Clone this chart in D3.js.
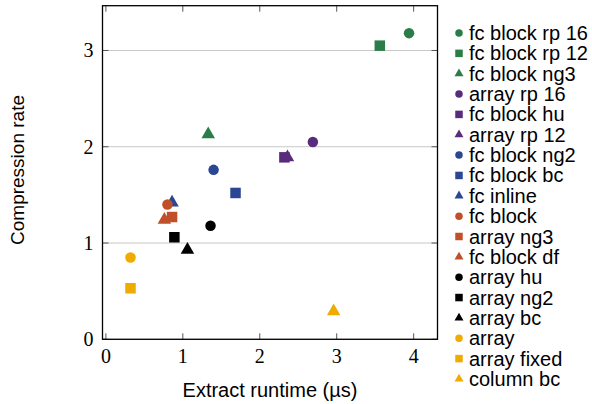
<!DOCTYPE html>
<meta charset="utf-8">
<style>
    body { margin: 0; background: #fff; }
    svg { display: block; }
    .tick-label { font: 20px "Liberation Serif", serif; fill: #000; }
    .axis-title { font: 20px "Liberation Sans", Arial, sans-serif; fill: #000; }
    .legend text { font: 20px "Liberation Sans", Arial, sans-serif; fill: #000; }
</style>
<body>
<script src="https://cdnjs.cloudflare.com/ajax/libs/d3/7.8.5/d3.min.js"></script>
<script>
// series, in legend (and drawing) order
var names = ["fc block rp 16", "fc block rp 12", "fc block ng3", "array rp 16", "fc block hu",
    "array rp 12", "fc block ng2", "fc block bc", "fc inline", "fc block", "array ng3",
    "fc block df", "array hu", "array ng2", "array bc", "array", "array fixed", "column bc"];
var runtime = [3.94, 3.56, 1.33, 2.69, 2.32, 2.36, 1.40, 1.685, 0.86, 0.80, 0.86,
    0.76, 1.36, 0.89, 1.06, 0.32, 0.32, 2.96];
var rate = [3.18, 3.05, 2.13, 2.05, 1.89, 1.89, 1.76, 1.52, 1.42, 1.40, 1.27,
    1.24, 1.18, 1.06, 0.93, 0.85, 0.53, 0.29];
var groupColors = ["#2a7d47", "#592b7c", "#2b4692", "#c0502a", "#000000", "#f0ab00"];
var shapes = ["circle", "square", "triangle"];
var xTicks = [0, 1, 2, 3, 4];
var yTicks = [0, 1, 2, 3];

var W = 592, H = 404;
var pl = 102.5, pr = 437.5, pt = 5.7, pb = 339.3;

var svg = d3.select("body").append("svg").attr("width", W).attr("height", H);

var x = d3.scaleLinear().domain([-0.044, 4.31]).range([pl, pr]);
var y = d3.scaleLinear().domain([0, 3.465]).range([pb, pt]);

// horizontal grid
svg.append("g").selectAll("line").data(yTicks).enter().append("line")
    .attr("x1", pl).attr("x2", pr)
    .attr("y1", function(d) { return y(d); }).attr("y2", function(d) { return y(d); })
    .attr("stroke", "#c8c8c8").attr("stroke-width", 1);

// ticks inside, mirrored on both sides
var tl = 6, tickCol = "#555";
var tk = svg.append("g").attr("stroke", tickCol).attr("stroke-width", 1);
xTicks.forEach(function(t) {
    tk.append("line").attr("x1", x(t)).attr("x2", x(t)).attr("y1", pb).attr("y2", pb - tl);
    tk.append("line").attr("x1", x(t)).attr("x2", x(t)).attr("y1", pt).attr("y2", pt + tl);
});
yTicks.forEach(function(t) {
    tk.append("line").attr("y1", y(t)).attr("y2", y(t)).attr("x1", pl).attr("x2", pl + tl);
    tk.append("line").attr("y1", y(t)).attr("y2", y(t)).attr("x1", pr).attr("x2", pr - tl);
});

// frame
svg.append("rect").attr("x", pl).attr("y", pt)
    .attr("width", pr - pl).attr("height", pb - pt)
    .attr("fill", "none").attr("stroke", "#000").attr("stroke-width", 1.3);

svg.append("g").selectAll("text").data(xTicks).enter().append("text")
    .attr("class", "tick-label")
    .attr("x", function(d) { return x(d); }).attr("y", pb + 24)
    .attr("text-anchor", "middle").text(function(d) { return d; });
svg.append("g").selectAll("text").data(yTicks).enter().append("text")
    .attr("class", "tick-label")
    .attr("x", pl - 9).attr("y", function(d) { return y(d) + 7; })
    .attr("text-anchor", "end").text(function(d) { return d; });

svg.append("text").attr("class", "axis-title")
    .attr("x", (pl + pr) / 2).attr("y", 397)
    .attr("text-anchor", "middle").text("Extract runtime (µs)");
svg.append("text").attr("class", "axis-title")
    .style("font-size", "19px")
    .attr("transform", "translate(24," + 170 + ") rotate(-90)")
    .attr("text-anchor", "middle").text("Compression rate");

// s = diameter / side length in px
function symbolPath(shape, s) {
    if (shape === "circle") return d3.symbol().type(d3.symbolCircle).size(Math.PI * s * s / 4)();
    if (shape === "square") return d3.symbol().type(d3.symbolSquare).size(s * s)();
    return d3.symbol().type(d3.symbolTriangle).size(s * s * Math.sqrt(3) / 4)();
}

var pts = names.map(function(n, i) {
    return { name: n, x: runtime[i], y: rate[i],
        color: groupColors[Math.floor(i / 3)], shape: shapes[i % 3] };
});

svg.append("g").selectAll("path").data(pts).enter().append("path")
    .attr("transform", function(d) { return "translate(" + x(d.x) + "," + y(d.y) + ")"; })
    .attr("d", function(d) { return symbolPath(d.shape, d.shape === "triangle" ? 13.5 : 10.5); })
    .attr("fill", function(d) { return d.color; });

// legend
var lg = svg.append("g").attr("class", "legend");
var row = lg.selectAll("g").data(pts).enter().append("g")
    .attr("transform", function(d, i) { return "translate(459," + (33 + i * 20.35) + ")"; });
row.append("path")
    .attr("d", function(d) { return symbolPath(d.shape, d.shape === "triangle" ? 9 : 7.5); })
    .attr("fill", function(d) { return d.color; });
row.append("text").attr("x", 10).attr("y", 7).text(function(d) { return d.name; });
</script>
</body>
</html>
